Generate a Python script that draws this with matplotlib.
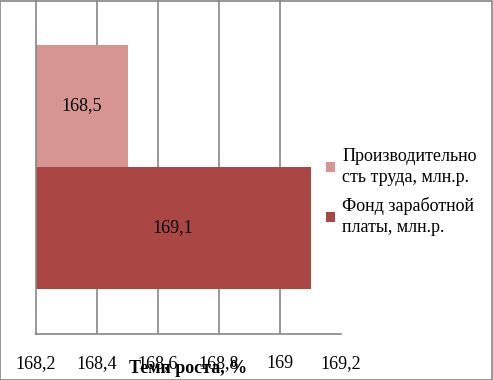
import matplotlib.pyplot as plt
from matplotlib.patches import Rectangle

series = ['Производительно\nсть труда, млн.р.', 'Фонд заработной\nплаты, млн.р.']
values = [168.5, 169.1]
labels = ['168,5', '169,1']
colors = ['#D69593', '#AA4644']
ticks = [168.2, 168.4, 168.6, 168.8, 169.0, 169.2]
tick_labels = ['168,2', '168,4', '168,6', '168,8', '169', '169,2']
base = 168.2

plt.rcParams['font.family'] = ['Liberation Serif', 'DejaVu Serif']
fs = 13

fig = plt.figure(figsize=(4.93, 3.80), dpi=100)
ax = fig.add_axes([36/493, 1 - 334/380, (341-36)/493, 334/380])

ypos = [0.5, -0.5]
for y, v, lab, c, name in zip(ypos, values, labels, colors, series):
    ax.barh(y, v - base, left=base, height=1.0, color=c, label=name, zorder=2)
    ax.text(base + (v - base)/2, y, lab, ha='center', va='center', fontsize=fs, zorder=3)

ax.set_xlim(168.2, 169.2)
ax.set_ylim(-1.37, 1.37)
ax.set_xticks(ticks)
ax.set_xticklabels(tick_labels, fontsize=fs)
ax.set_yticks([])
ax.tick_params(axis='x', length=0, pad=15)
for t in ticks[1:-1]:
    ax.axvline(t, color='#868686', lw=1.2, zorder=1)
for s in ['top', 'right']:
    ax.spines[s].set_visible(False)
for s in ['left', 'bottom']:
    ax.spines[s].set_color('#868686')
    ax.spines[s].set_linewidth(1.2)

ax.set_xlabel('Темп роста, %', fontsize=fs, fontweight='bold')
ax.xaxis.label.set_va('center')
ax.xaxis.set_label_coords(0.5, -0.103)

leg = fig.legend(loc='center left', bbox_to_anchor=(326/493, 1 - 192/380), frameon=False,
                 fontsize=fs, handlelength=0.5, handleheight=0.5, handletextpad=0.4,
                 labelspacing=0.65, borderpad=0, borderaxespad=0)
for t in leg.get_texts():
    t.set_linespacing(1.3)

fig.patches.append(Rectangle((0.001, 0.001), 0.997, 0.997, transform=fig.transFigure,
                             fill=False, edgecolor='#868686', lw=1.2))

fig.savefig('out.png', dpi=100)
